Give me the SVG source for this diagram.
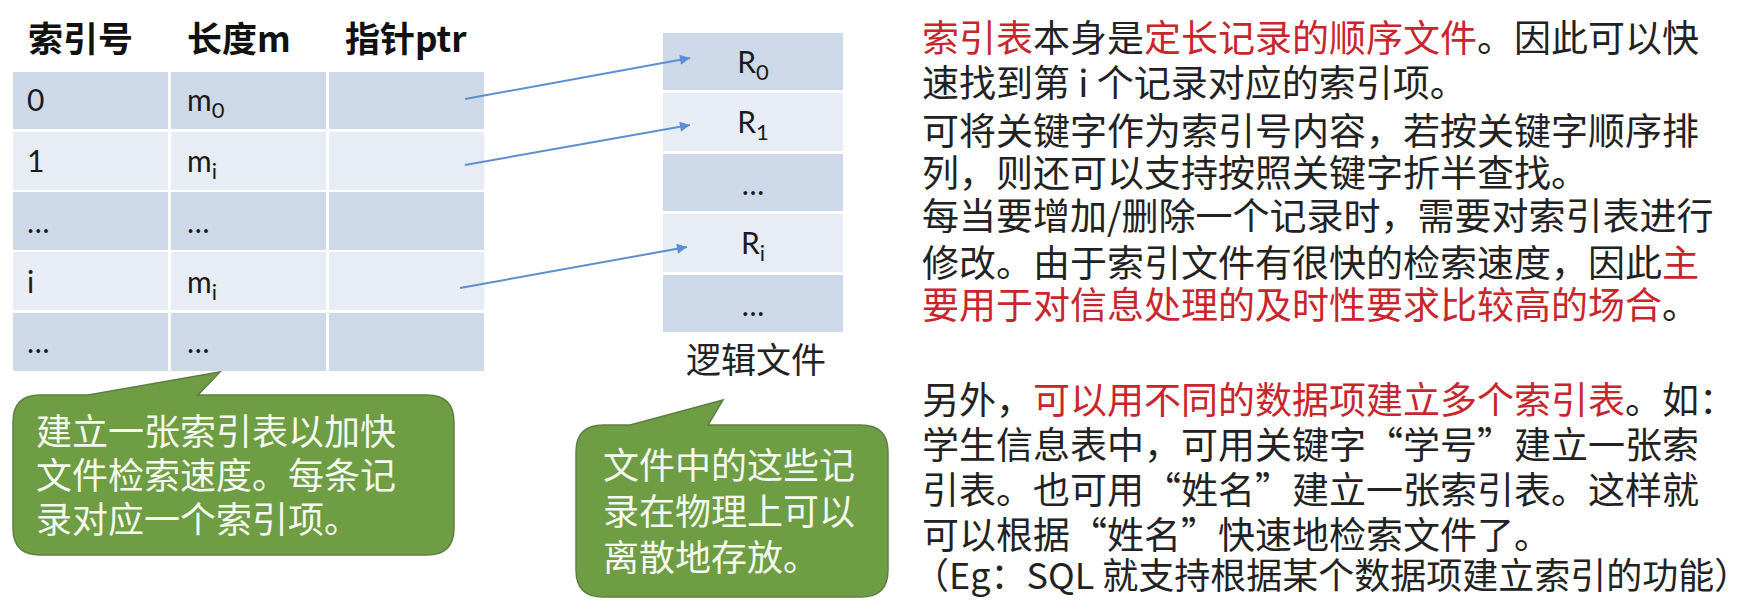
<svg xmlns="http://www.w3.org/2000/svg" width="1762" height="609" viewBox="0 0 1762 609">
<defs>
<style>
.dark{fill:#cdd8e9}
.light{fill:#e7ecf5}
.hdr{font-family:"Noto Sans CJK SC","Noto Sans",sans-serif;font-weight:bold;font-size:35px;fill:#111}
.cell{font-family:Lato,"Liberation Sans",sans-serif;font-size:30px;fill:#1a1a1a}
.sub{font-size:22px}
.cap{font-family:"Noto Sans CJK SC",sans-serif;font-size:35px;fill:#222}
.bub{fill:#6f9d44;stroke:#5d7f44;stroke-width:1.5}
.btxt{font-family:"Noto Sans CJK SC",sans-serif;font-size:36px;fill:#f4f8ee}
.body{font-family:"Noto Sans CJK SC",sans-serif;font-size:37px;fill:#222}
.red{fill:#c8262c}
.conn{stroke:#5b8fcf;stroke-width:2;fill:none}
</style>
<marker id="arr" viewBox="0 0 10 10" refX="10" refY="5" markerWidth="12" markerHeight="10" markerUnits="userSpaceOnUse" orient="auto">
<path d="M0,0 L10,5 L0,10 Z" fill="#5b8fcf"/>
</marker>
</defs>
<rect width="1762" height="609" fill="#ffffff"/>

<g id="index-table">
<text class="hdr" x="28" y="52">索引号</text>
<text class="hdr" x="187" y="52">长度m</text>
<text class="hdr" x="345" y="52">指针ptr</text>
<g id="row0">
<rect class="dark" x="13" y="72" width="155" height="57"/>
<rect class="dark" x="171" y="72" width="155" height="57"/>
<rect class="dark" x="329" y="72" width="155" height="57"/>
<text class="cell" x="27" y="111">0</text>
<text class="cell" x="187" y="111">m<tspan class="sub" dy="7">0</tspan></text>
</g>
<g id="row1">
<rect class="light" x="13" y="132" width="155" height="58"/>
<rect class="light" x="171" y="132" width="155" height="58"/>
<rect class="light" x="329" y="132" width="155" height="58"/>
<text class="cell" x="27" y="172">1</text>
<text class="cell" x="187" y="172">m<tspan class="sub" dy="7">i</tspan></text>
</g>
<g id="row2">
<rect class="dark" x="13" y="192" width="155" height="58"/>
<rect class="dark" x="171" y="192" width="155" height="58"/>
<rect class="dark" x="329" y="192" width="155" height="58"/>
<text class="cell" x="27" y="233">…</text>
<text class="cell" x="187" y="233">…</text>
</g>
<g id="row3">
<rect class="light" x="13" y="252" width="155" height="58"/>
<rect class="light" x="171" y="252" width="155" height="58"/>
<rect class="light" x="329" y="252" width="155" height="58"/>
<text class="cell" x="27" y="293">i</text>
<text class="cell" x="187" y="293">m<tspan class="sub" dy="7">i</tspan></text>
</g>
<g id="row4">
<rect class="dark" x="13" y="313" width="155" height="58"/>
<rect class="dark" x="171" y="313" width="155" height="58"/>
<rect class="dark" x="329" y="313" width="155" height="58"/>
<text class="cell" x="27" y="353">…</text>
<text class="cell" x="187" y="353">…</text>
</g>
</g>

<g id="logical-file">
<g id="rec0">
<rect class="dark" x="663" y="33" width="180" height="57"/>
<text class="cell" x="753" y="73" text-anchor="middle">R<tspan class="sub" dy="7">0</tspan></text>
</g>
<g id="rec1">
<rect class="light" x="663" y="93" width="180" height="58"/>
<text class="cell" x="753" y="133" text-anchor="middle">R<tspan class="sub" dy="7">1</tspan></text>
</g>
<g id="rec2">
<rect class="dark" x="663" y="154" width="180" height="57"/>
<text class="cell" x="753" y="195" text-anchor="middle">…</text>
</g>
<g id="reci">
<rect class="light" x="663" y="214" width="180" height="58"/>
<text class="cell" x="753" y="254" text-anchor="middle">R<tspan class="sub" dy="7">i</tspan></text>
</g>
<g id="rec4">
<rect class="dark" x="663" y="275" width="180" height="57"/>
<text class="cell" x="753" y="316" text-anchor="middle">…</text>
</g>
<text class="cap" x="756" y="373" text-anchor="middle">逻辑文件</text>
</g>

<g id="connectors">
<line class="conn" x1="465" y1="99" x2="690" y2="58" marker-end="url(#arr)"/>
<line class="conn" x1="465" y1="165" x2="690" y2="125" marker-end="url(#arr)"/>
<line class="conn" x1="460" y1="288" x2="687" y2="247" marker-end="url(#arr)"/>
</g>

<g id="callout-index">
<path class="bub" d="M40 395 H88 L220 372 L198 395 H427 Q454 395 454 422 V528 Q454 555 427 555 H40 Q13 555 13 528 V422 Q13 395 40 395 Z"/>
<text class="btxt" x="36" y="445">建立一张索引表以加快</text>
<text class="btxt" x="36" y="489">文件检索速度。每条记</text>
<text class="btxt" x="36" y="533">录对应一个索引项。</text>
</g>

<g id="callout-file">
<path class="bub" d="M603 425 H630 L723 400 L708 425 H861 Q888 425 888 452 V570 Q888 597 861 597 H603 Q576 597 576 570 V452 Q576 425 603 425 Z"/>
<text class="btxt" x="603" y="479">文件中的这些记</text>
<text class="btxt" x="603" y="525">录在物理上可以</text>
<text class="btxt" x="603" y="571">离散地存放。</text>
</g>

<g id="notes">
<text class="body" x="922" y="52"><tspan class="red">索引表</tspan>本身是<tspan class="red">定长记录的顺序文件</tspan>。因此可以快</text>
<text class="body" x="922" y="97">速找到第 i 个记录对应的索引项。</text>
<text class="body" x="922" y="145">可将关键字作为索引号内容，若按关键字顺序排</text>
<text class="body" x="922" y="187">列，则还可以支持按照关键字折半查找。</text>
<text class="body" x="922" y="230">每当要增加/删除一个记录时，需要对索引表进行</text>
<text class="body" x="922" y="277">修改。由于索引文件有很快的检索速度，因此<tspan class="red">主</tspan></text>
<text class="body" x="922" y="319"><tspan class="red">要用于对信息处理的及时性要求比较高的场合</tspan>。</text>
<text class="body" x="922" y="414">另外，<tspan class="red">可以用不同的数据项建立多个索引表</tspan>。如：</text>
<text class="body" x="922" y="459">学生信息表中，可用关键字“学号”建立一张索</text>
<text class="body" x="922" y="504">引表。也可用“姓名”建立一张索引表。这样就</text>
<text class="body" x="922" y="549">可以根据“姓名”快速地检索文件了。</text>
<text class="body" x="913" y="589" style="font-size:36px">（Eg：SQL 就支持根据某个数据项建立索引的功能）</text>
</g>
</svg>
